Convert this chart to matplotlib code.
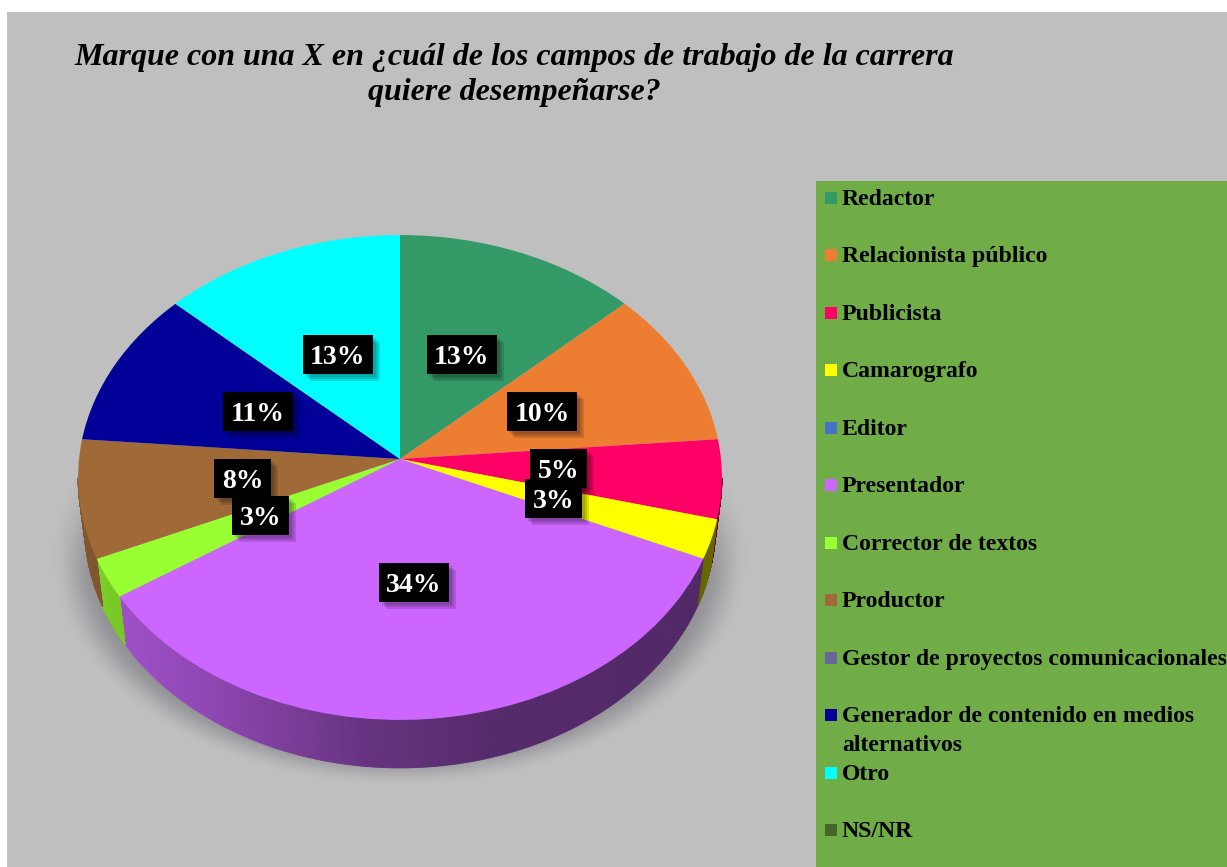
import numpy as np
import matplotlib
matplotlib.use("Agg")
import matplotlib.pyplot as plt
from matplotlib.patches import Rectangle, Polygon
from matplotlib.transforms import Transform

# ---- data ----
categories = ["Redactor", "Relacionista público", "Publicista", "Camarografo", "Editor",
              "Presentador", "Corrector de textos", "Productor",
              "Gestor de proyectos comunicacionales",
              "Generador de contenido en medios\nalternativos", "Otro", "NS/NR"]
counts = [5, 4, 2, 1, 0, 13, 1, 3, 0, 4, 5, 0]
colors = ["#339966", "#ED7D31", "#FF0066", "#FFFF00", "#4472C4", "#CC66FF",
          "#99FF33", "#A06A38", "#666699", "#000099", "#00FFFF", "#43682B"]
label_texts = ["13%", "10%", "5%", "3%", "34%", "3%", "8%", "11%", "13%"]
title = "Marque con una X en ¿cuál de los campos de trabajo de la carrera\nquiere desempeñarse?"

# ---- layout ----
W, H = 1227, 867
GRAY, GREEN = "#BFBFBF", "#70AD47"
CX, CY, RX, RY, K, DEPTH, SHRINK = 400, 459, 321, 241, 0.0763, 48, 0.98
label_boxes = [(427, 335, 70), (507, 392, 70), (530, 449, 57), (525, 479, 57), (379, 563, 70),
               (232, 496, 57), (214, 459, 57), (223, 392, 70), (303, 335, 70)]
BOX_H = 39
plt.rcParams["font.family"] = ["Liberation Serif", "DejaVu Serif"]


class Perspective(Transform):
    """Unit-circle pie coordinates -> pixel position of the tilted disc."""
    input_dims = output_dims = 2
    has_inverse = False

    def transform_non_affine(self, v):
        v = np.asarray(v, float)
        d = 1 + K * v[:, 1]
        return np.column_stack([CX + RX * v[:, 0] / d, CY - RY * v[:, 1] / d])


persp = Perspective()
fig = plt.figure(figsize=(W / 100, H / 100), dpi=100, facecolor="white")
ax = fig.add_axes([0, 0, 1, 1])

# pie top surface
wedges, _ = ax.pie(counts, colors=colors, startangle=90, counterclock=False, radius=1,
                   wedgeprops=dict(linewidth=0))
for w in wedges:
    w.set_transform(persp + ax.transData)
    w.set_zorder(4)

# background panel, shadow, legend panel
ax.add_patch(Rectangle((7, 12), W, H, fc=GRAY, ec="none", zorder=0))
ax.add_patch(Rectangle((816, 181), W, H, fc=GREEN, ec="none", zorder=1))
yy, xx = np.mgrid[0:H, 0:W] + 0.5
d = np.hypot((xx - 400) / 350, (yy - 555) / 232)
t = np.clip((yy - 420) / 170, 0, 1)
a = np.clip((1 - d) / 0.14, 0, 1)
a = a * a * (3 - 2 * a) * 0.48 * t * t * (3 - 2 * t)
rgba = np.zeros((H, W, 4))
rgba[..., :3] = 0.36
rgba[..., 2] = 0.40
rgba[..., 3] = a
ax.imshow(rgba, extent=(0, W, H, 0), zorder=0.5, interpolation="bilinear")

# side wall of the disc, one strip per small angular step inside each slice
fractions = np.cumsum([0] + counts) / sum(counts)
for i, col in enumerate(colors):
    if counts[i] == 0:
        continue
    # clockwise angle from the top
    ang = np.linspace(fractions[i], fractions[i + 1], 200) * 2 * np.pi
    xs, ys = np.sin(ang), np.cos(ang)
    keep = ys <= -K
    if keep.sum() < 2:
        continue
    pts = persp.transform_non_affine(np.column_stack([xs[keep], ys[keep]]))
    low = np.column_stack([CX + (pts[:, 0] - CX) * SHRINK, pts[:, 1] + DEPTH])
    base = np.array(matplotlib.colors.to_rgb(col))
    for j in range(len(pts) - 1):
        nx = (0.5 * (pts[j, 0] + pts[j + 1, 0]) - CX) / RX
        f = np.interp(nx, [-1, -0.6, -0.1, 0.3, 1], [0.82, 0.70, 0.50, 0.42, 0.40])
        ax.add_patch(Polygon([pts[j], pts[j + 1], low[j + 1], low[j]], closed=True,
                             fc=base * f, ec=base * f, lw=0.6, zorder=3))

# data labels
for txt, (x, y, w) in zip(label_texts, label_boxes):
    for s in (3, 5, 7):
        ax.add_patch(Rectangle((x + s, y + s), w, BOX_H, fc="black", ec="none", alpha=0.13, zorder=5))
for n, (txt, (x, y, w)) in enumerate(zip(label_texts, label_boxes)):
    ax.add_patch(Rectangle((x, y), w, BOX_H, fc="black", ec="none", zorder=6 + n * 0.01))
    ax.text(x + w / 2, y + BOX_H / 2 + 3, txt, color="white", fontsize=20, fontweight="bold",
            ha="center", va="center", zorder=6.005 + n * 0.01)

# legend
for i, (name, col) in enumerate(zip(categories, colors)):
    y = 197.5 + 57.45 * i
    ax.add_patch(Rectangle((825, y - 5.5), 12, 12, fc=col, ec="none", zorder=7))
    ax.text(842, y - 8.5, name, fontsize=17.1, fontweight="bold", color="black", ha="left", va="top",
            linespacing=1.5, zorder=7, clip_on=True)

# title
ax.text(514, 43, title, fontsize=23, fontweight="bold", fontstyle="italic", color="black",
        ha="center", va="top", linespacing=1.27, zorder=7)

ax.set_aspect("auto")
ax.set_xlim(0, W)
ax.set_ylim(H, 0)
ax.axis("off")
fig.savefig("out.png", dpi=100, facecolor="white")
